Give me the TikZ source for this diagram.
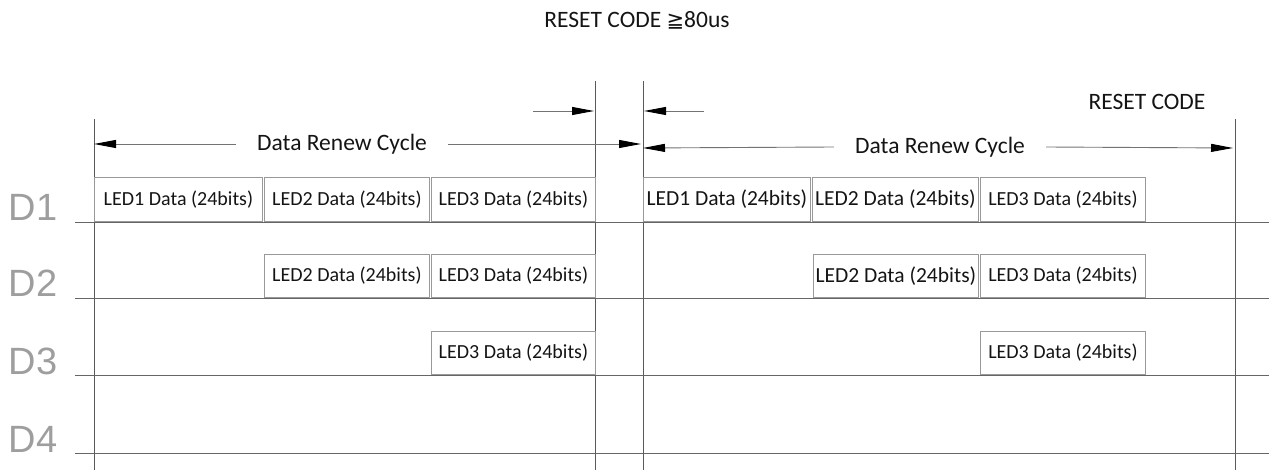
\documentclass[tikz,border=0pt]{standalone}
\usepackage{fontspec}
\setmainfont{Carlito}
\newfontfamily\labfont{Liberation Sans}
\newfontfamily\symfont{DejaVu Sans}
\usetikzlibrary{arrows.meta}
\begin{document}
\begin{tikzpicture}[x=1pt,y=-1pt,
  rule/.style={draw=black!60,line width=0.9pt},
  grid/.style={draw=black!65,line width=0.9pt},
  tipline/.style={draw=black!55,line width=0.9pt,-{Triangle[length=22pt,width=8pt,color=black]}},
  ledbox/.style={draw=black!40,line width=0.9pt,inner sep=0pt,anchor=south west,minimum height=44pt,font=\fontsize{20}{22}\selectfont,text=black!92},
  bigled/.style={ledbox,font=\fontsize{21.5}{23}\selectfont},
  sig/.style={font=\labfont\fontsize{38}{38}\selectfont,text=black!38,anchor=base},
  cyc/.style={font=\fontsize{23.5}{25}\selectfont,text=black!92,inner xsep=21pt,inner ysep=2pt},
  ttl/.style={font=\fontsize{23.5}{25}\selectfont,text=black!92}]
\useasboundingbox (0,0) rectangle (1269,470);

% vertical lines
\coordinate (v1t) at (94,119);  \coordinate (v1b) at (94,470);
\coordinate (v2t) at (595,81);  \coordinate (v2b) at (595,470);
\coordinate (v3t) at (643,81);  \coordinate (v3b) at (643,470);
\coordinate (v4t) at (1235,119);\coordinate (v4b) at (1235,470);
\draw[grid] (v1t) -- (v1b);
\draw[grid] (v2t) -- (v2b);
\draw[grid] (v3t) -- (v3b);
\draw[grid] (v4t) -- (v4b);

% signal lines
\foreach \n/\y in {1/222,2/298,3/375,4/453}{
  \coordinate (s\n a) at (75,\y);
  \coordinate (s\n b) at (1269,\y);
  \draw[rule] (s\n a) -- (s\n b);
}
\node[sig] (d1) at (33,221) {D1};
\node[sig] (d2) at (33,297) {D2};
\node[sig] (d3) at (33,374) {D3};
\node[sig] (d4) at (33,452) {D4};

% boxes, left cycle
\node[ledbox,minimum width=168pt] (l11) at (94,222) {LED1 Data (24bits)};
\node[ledbox,minimum width=165pt] (l12) at (264,222) {LED2 Data (24bits)};
\node[ledbox,minimum width=164pt] (l13) at (431,222) {LED3 Data (24bits)};
\node[ledbox,minimum width=165pt,minimum height=43pt] (l22) at (264,298) {LED2 Data (24bits)};
\node[ledbox,minimum width=164pt,minimum height=43pt] (l23) at (431,298) {LED3 Data (24bits)};
\node[ledbox,minimum width=164pt,minimum height=43pt] (l33) at (431,375) {LED3 Data (24bits)};

% boxes, right cycle
\node[bigled,minimum width=167pt] (r11) at (643,222) {LED1 Data (24bits)};
\node[bigled,minimum width=166pt] (r12) at (812,222) {LED2 Data (24bits)};
\node[ledbox,minimum width=165pt] (r13) at (980,222) {LED3 Data (24bits)};
\node[bigled,minimum width=165pt,minimum height=43pt] (r22) at (813,298) {LED2 Data (24bits)};
\node[ledbox,minimum width=165pt,minimum height=43pt] (r23) at (980,298) {LED3 Data (24bits)};
\node[ledbox,minimum width=165pt,minimum height=43pt] (r33) at (980,375) {LED3 Data (24bits)};

% data renew cycle arrows
\node[cyc] (dr1) at (342,144) {Data Renew Cycle};
\coordinate (dr1l) at (94,144);
\coordinate (dr1r) at (641,144);
\draw[tipline] (dr1.west) -- (dr1l);
\draw[tipline] (dr1.east) -- (dr1r);

\node[cyc] (dr2) at (940,147) {Data Renew Cycle};
\coordinate (dr2l) at (643,148);
\coordinate (dr2r) at (1233,148);
\draw[tipline] (dr2.west) -- (dr2l);
\draw[tipline] (dr2.east) -- (dr2r);

% reset code arrows
\coordinate (ra1) at (533,111);
\coordinate (ra2) at (594,111);
\coordinate (rb1) at (704,111);
\coordinate (rb2) at (644,111);
\draw[tipline] (ra1) -- (ra2);
\draw[tipline] (rb1) -- (rb2);

% titles
\node[ttl] (t1) at (637,20) {RESET CODE {\symfont\fontsize{21}{22}\selectfont ≧}80us};
\node[ttl] (t2) at (1147,102) {RESET CODE};
\end{tikzpicture}
\end{document}
